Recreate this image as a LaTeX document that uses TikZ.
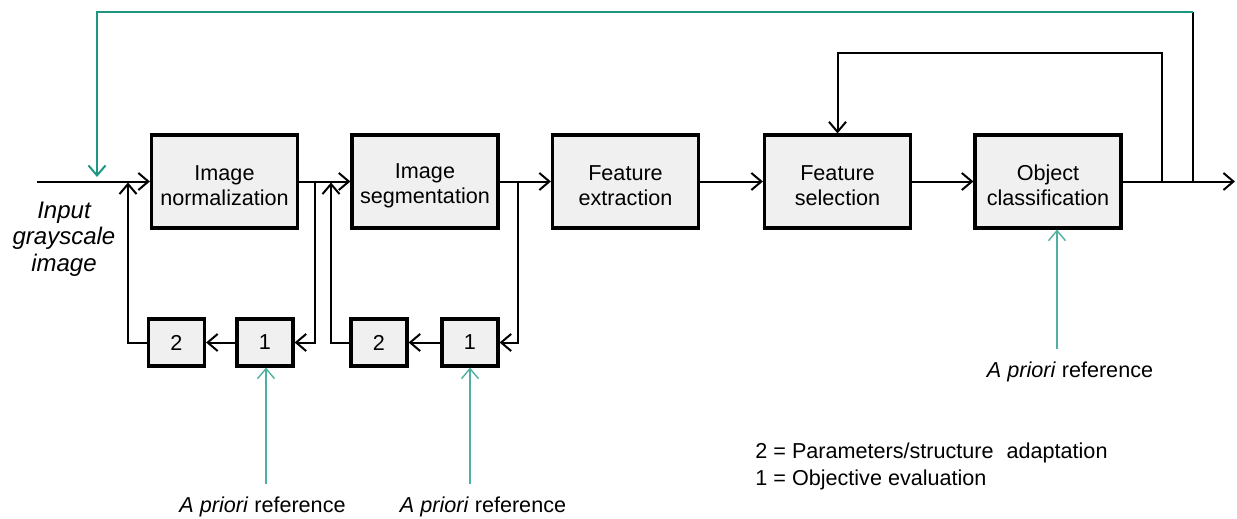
\documentclass[tikz,border=0pt]{standalone}
\usepackage{fontspec}
\setmainfont{Liberation Sans}
\usetikzlibrary{arrows.meta}
\definecolor{tealline}{RGB}{30,150,130}
\definecolor{tealref}{RGB}{80,175,160}
\definecolor{boxfill}{RGB}{240,240,240}
% two-line box caption, set a little below the box centre
\newcommand\stagetext[2]{\mbox{}\\[-0.9pt]#1\\#2}
\tikzset{
  stage/.style={draw=black, line width=1.6pt, fill=boxfill, align=center,
    minimum width=73pt, minimum height=46.5pt, inner sep=0pt,
    font=\fontsize{10.8pt}{12.7pt}\selectfont},
  evalbox/.style={draw=black, line width=1.6pt, fill=boxfill,
    minimum width=28pt, minimum height=23.5pt, inner sep=0pt,
    font=\fontsize{10.8pt}{12.7pt}\selectfont},
  flow/.style={line width=1pt, draw=black},
  arr/.style={flow, -{Straight Barb[length=5pt,width=8.5pt,line width=1pt]}},
  tealarr/.style={line width=1pt, draw=tealline,
    -{Straight Barb[length=5pt,width=8.5pt,line width=1pt]}},
  refarr/.style={line width=0.7pt, draw=tealref,
    -{Straight Barb[length=5pt,width=8.5pt,line width=0.7pt]}},
  reflabel/.style={font=\fontsize{10.8pt}{13pt}\selectfont, inner sep=0pt},
}
\begin{document}
\begin{tikzpicture}[x=0.5pt, y=-0.5pt]
\useasboundingbox (0,0) rectangle (1237,519);

% processing chain
\node[stage] (norm) at (224.5,181.5) {\stagetext{Image}{normalization}};
\node[stage] (seg)  at (425,181.5) {\stagetext{Image}{segmentation}};
\node[stage] (ext)  at (625.5,181.5) {\stagetext{Feature}{extraction}};
\node[stage] (sel)  at (837.5,181.5) {\stagetext{Feature}{selection}};
\node[stage] (cls)  at (1048,181.5) {\stagetext{Object}{classification}};

% evaluation / adaptation boxes
\node[evalbox] (n1) at (265,342.5) {1};
\node[evalbox] (n2) at (176.5,342.5) {2};
\node[evalbox] (s1) at (470,342.5) {1};
\node[evalbox] (s2) at (379,342.5) {2};

% input
\coordinate (in) at (37,181.5);
\node[font=\itshape\fontsize{12pt}{13.25pt}\selectfont, align=center]
  (inlbl) at (64,239) {Input\\grayscale\\image};
\draw[arr] (in) -- (norm.west);

% main flow
\draw[arr] (norm.east) -- (seg.west);
\draw[arr] (seg.east) -- (ext.west);
\draw[arr] (ext.east) -- (sel.west);
\draw[arr] (sel.east) -- (cls.west);
\coordinate (out) at (1235,181.5);
\draw[arr] (cls.east) -- (out);

% feedback loop around normalization
\coordinate (j1) at (315,181.5);
\coordinate (u1) at (128,182.5);
\draw[arr] (j1) |- (n1.east);
\draw[arr] (n1.west) -- (n2.east);
\draw[arr] (n2.west) -| (u1);

% feedback loop around segmentation
\coordinate (j2) at (518,181.5);
\coordinate (u2) at (331,182.5);
\draw[arr] (j2) |- (s1.east);
\draw[arr] (s1.west) -- (s2.east);
\draw[arr] (s2.west) -| (u2);

% feedback to feature selection
\coordinate (j3) at (1162,181.5);
\coordinate (k1) at (1162,53);
\draw[arr] (j3) -- (k1) -| (sel.north);

% global feedback to the input
\coordinate (j4) at (1193,181.5);
\coordinate (k2) at (1193,12);
\coordinate (k3) at (97,12);
\coordinate (t)  at (97,177);
\draw[flow] (j4) -- (k2);
\draw[tealarr] (k2) -- (k3) -- (t);

% a priori references
\node[reflabel] (r1) at (262.5,507) {\textit{A priori} reference};
\node[reflabel] (r2) at (483,507) {\textit{A priori} reference};
\node[reflabel] (r3) at (1070,372) {\textit{A priori} reference};
\coordinate (b1) at (266,484);
\coordinate (b2) at (470,484);
\coordinate (b3) at (1057,349);
\draw[refarr] (b1) -- (n1.south -| b1);
\draw[refarr] (b2) -- (s1.south -| b2);
\draw[refarr] (b3) -- (cls.south -| b3);

% legend
\node[anchor=west, align=left, inner sep=0pt,
  font=\fontsize{10.8pt}{13.5pt}\selectfont] (legend) at (755,466)
  {2 = Parameters/structure\hspace{0.6em}adaptation\\1 = Objective evaluation};
\end{tikzpicture}
\end{document}
